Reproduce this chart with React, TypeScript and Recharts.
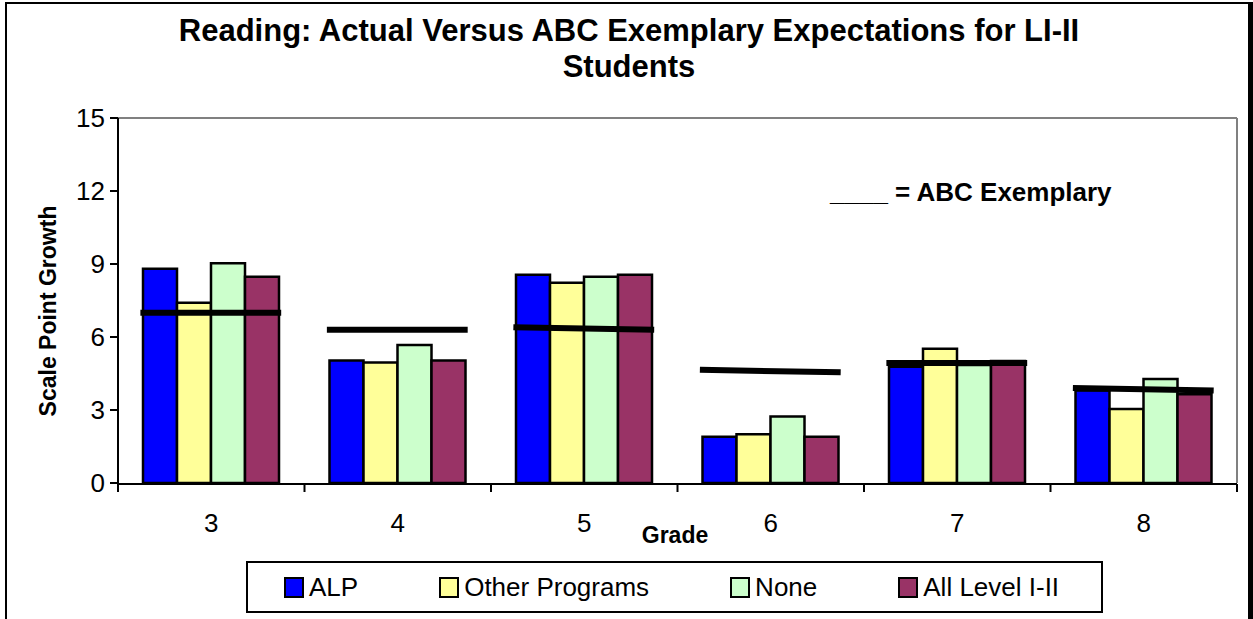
import React from 'react';
import { Bar, ComposedChart, ReferenceLine, XAxis, YAxis } from 'recharts';

const grades = ['3', '4', '5', '6', '7', '8'];
const alp = [8.8, 5.03, 8.56, 1.9, 4.78, 3.8];
const otherPrograms = [7.41, 4.95, 8.23, 2.0, 5.52, 3.04];
const none = [9.03, 5.67, 8.48, 2.73, 4.85, 4.27];
const allLevel = [8.48, 5.03, 8.56, 1.9, 5.01, 3.65];
// ABC exemplary expectation, value at left and right end of each grade's line
const abcLeft = [7.0, 6.3, 6.4, 4.65, 4.93, 3.9];
const abcRight = [7.0, 6.3, 6.3, 4.55, 4.93, 3.8];
const yTicks = [0, 3, 6, 9, 12, 15];

const SERIES = [
  { key: 'alp', name: 'ALP', color: '#0000FF', values: alp },
  { key: 'other', name: 'Other Programs', color: '#FFFF99', values: otherPrograms },
  { key: 'none', name: 'None', color: '#CCFFCC', values: none },
  { key: 'all', name: 'All Level I-II', color: '#993366', values: allLevel },
];

const FONT = '"Liberation Sans", Arial, sans-serif';

// pos = centre of each grade on a 0..n number line, used for the boundary ticks and ABC lines
const rows = grades.map((g, i) => {
  const row: Record<string, string | number> = { grade: g, pos: i + 0.5 };
  SERIES.forEach((s) => { row[s.key] = s.values[i]; });
  return row;
});

const edgeTicks = [...grades.map((_, i) => i), grades.length];

function ChartLegend() {
  return (
    <div style={{
      position: 'absolute', left: 246, top: 561, width: 857, height: 52,
      border: '2px solid #000', boxSizing: 'border-box', background: '#fff',
    }}>
      <div style={{ position: 'absolute', left: 36, top: 9, display: 'flex', gap: 81, alignItems: 'center' }}>
        {SERIES.map((s) => (
          <span key={s.key} style={{ display: 'flex', alignItems: 'center', gap: 5, fontSize: 26, lineHeight: '30px', fontFamily: FONT }}>
            <span style={{ width: 16, height: 17, background: s.color, border: '2px solid #000', display: 'inline-block' }} />
            {s.name}
          </span>
        ))}
      </div>
    </div>
  );
}

export default function App() {
  return (
    <div style={{ position: 'fixed', left: 0, top: 0, width: 1253, height: 619, overflow: 'hidden', background: '#fff', fontFamily: FONT }}>
      <div style={{ position: 'absolute', left: 0, top: 0 }}>
        <ComposedChart width={1253} height={619} data={rows} margin={{ top: 118, right: 16, bottom: 134, left: 20 }} barGap={0}>
          <XAxis xAxisId="edges" dataKey="pos" type="number" domain={[0, grades.length]} allowDataOverflow ticks={edgeTicks} height={1}
            tick={() => <g />} tickSize={8} axisLine={{ stroke: '#000', strokeWidth: 2 }} tickLine={{ stroke: '#000', strokeWidth: 2 }} />
          <XAxis dataKey="grade" height={1} axisLine={false} tickLine={false} tickSize={0} tickMargin={31}
            tick={{ fontSize: 26, fill: '#000', fontFamily: FONT }} />
          <YAxis type="number" domain={[0, 15]} ticks={yTicks} width={98} tickSize={8} tickMargin={5}
            axisLine={{ stroke: '#000', strokeWidth: 2 }} tickLine={{ stroke: '#000', strokeWidth: 2 }}
            tick={{ fontSize: 26, fill: '#000', fontFamily: FONT }} />
          <ReferenceLine y={15} stroke="#808080" strokeWidth={2} />
          <ReferenceLine xAxisId="edges" x={grades.length} stroke="#808080" strokeWidth={2} />
          {SERIES.map((s) => (
            <Bar key={s.key} dataKey={s.key} name={s.name} fill={s.color} stroke="#000" strokeWidth={2.5}
              barSize={34} isAnimationActive={false} />
          ))}
          {grades.map((g, i) => (
            <ReferenceLine key={g} xAxisId="edges" ifOverflow="visible" stroke="#000" strokeWidth={6}
              segment={[{ x: i + 0.12, y: abcLeft[i] }, { x: i + 0.875, y: abcRight[i] }]} />
          ))}
        </ComposedChart>
      </div>
      <div style={{
        position: 'absolute', left: 5, top: 2, width: 1248, height: 700, boxSizing: 'border-box',
        borderLeft: '2px solid #000', borderTop: '2px solid #000', borderRight: '5px solid #000', pointerEvents: 'none',
      }} />
      <div style={{ position: 'absolute', left: 5, top: 13, width: 1248, textAlign: 'center', fontSize: 31, fontWeight: 'bold', lineHeight: '36px' }}>
        Reading: Actual Versus ABC Exemplary Expectations for LI-II<br />Students
      </div>
      <div style={{ position: 'absolute', left: 830, top: 178, fontSize: 26, fontWeight: 'bold', lineHeight: '28px', whiteSpace: 'nowrap' }}>
        ____ = ABC Exemplary
      </div>
      <div style={{
        position: 'absolute', left: 48, top: 311, transform: 'translate(-50%, -50%) rotate(-90deg)',
        fontSize: 23, fontWeight: 'bold', whiteSpace: 'nowrap', lineHeight: '26px',
      }}>
        Scale Point Growth
      </div>
      <div style={{ position: 'absolute', left: 575, top: 522, width: 200, textAlign: 'center', fontSize: 23, fontWeight: 'bold', lineHeight: '26px' }}>
        Grade
      </div>
      <ChartLegend />
    </div>
  );
}
